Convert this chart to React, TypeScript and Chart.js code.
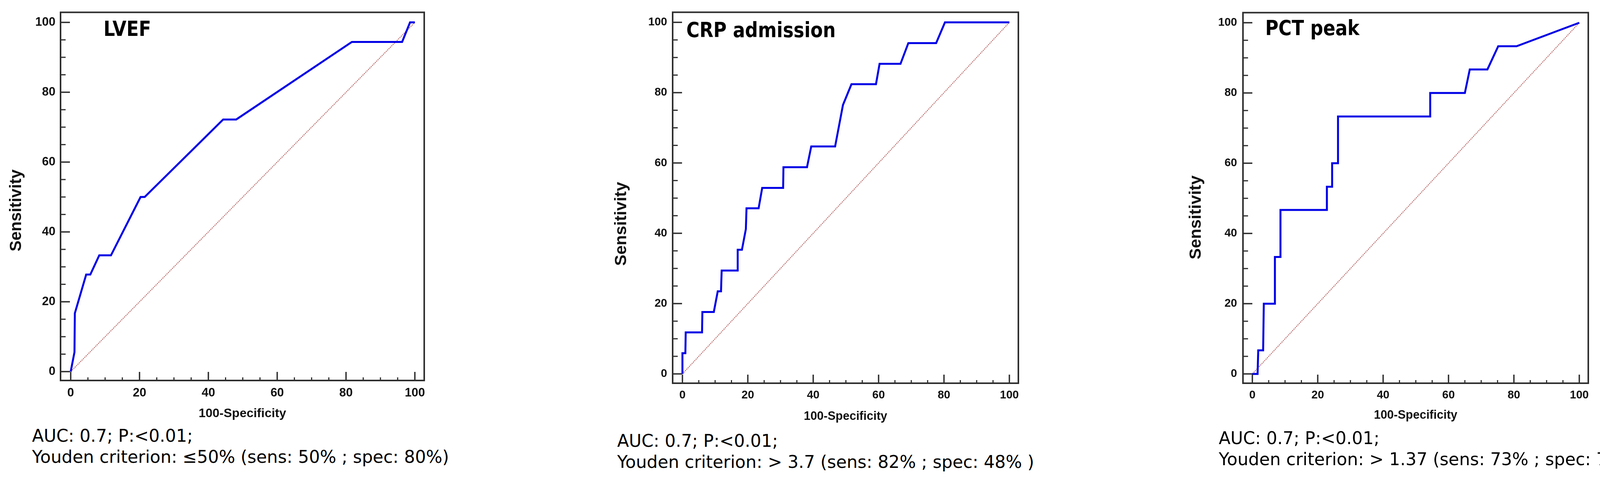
import React, { useEffect, useRef } from "react";
import { Chart, registerables } from "chart.js";

Chart.register(...registerables);

// ---------------- data ----------------
const X_TICKS = [0, 20, 40, 60, 80, 100];
const Y_TICKS = [0, 20, 40, 60, 80, 100];
const MINOR_TICKS = [5, 10, 15, 25, 30, 35, 45, 50, 55, 65, 70, 75, 85, 90, 95];
const DIAG_X = [0, 100];
const DIAG_Y = [0, 100];

const LVEF_FPR = [0, 1.1, 1.2, 4.5, 5.7, 8.3, 11.7, 20.3, 21.5, 44.3, 48.1, 81.7, 96.3, 98.6, 100];
const LVEF_TPR = [0, 5.6, 16.7, 27.8, 27.8, 33.3, 33.3, 50, 50, 72.2, 72.2, 94.4, 94.4, 100, 100];

const CRP_FPR = [0, 0, 0.9, 1.0, 6.0, 6.1, 9.6, 10.8, 11.8, 12.0, 16.9, 16.9, 18.2, 19.4, 19.6, 23.3, 24.4, 30.8, 30.9, 38.1, 39.4, 46.7, 47.9, 49.1, 51.7, 59.2, 60.3, 66.7, 69.1, 77.6, 80.3, 100];
const CRP_TPR = [0, 5.9, 5.9, 11.8, 11.8, 17.6, 17.6, 23.5, 23.5, 29.4, 29.4, 35.3, 35.3, 41.2, 47.1, 47.1, 52.9, 52.9, 58.8, 58.8, 64.7, 64.7, 70.6, 76.5, 82.4, 82.4, 88.2, 88.2, 94.1, 94.1, 100, 100];

const PCT_FPR = [0, 1.6, 1.8, 3.3, 3.5, 6.9, 6.9, 8.6, 8.6, 22.8, 22.8, 24.4, 24.4, 26.2, 26.2, 54.4, 54.4, 65.0, 66.5, 71.9, 75.2, 80.8, 100];
const PCT_TPR = [0, 0, 6.7, 6.7, 20, 20, 33.3, 33.3, 46.7, 46.7, 53.3, 53.3, 60, 60, 73.3, 73.3, 80, 80, 86.7, 86.7, 93.3, 93.3, 100];

const PANEL_TITLES = ["LVEF", "CRP admission", "PCT peak"];
const AUC_NOTES = ["AUC: 0.7; P:<0.01;", "AUC: 0.7; P:<0.01;", "AUC: 0.7; P:<0.01;"];
const YOUDEN_NOTES = [
  "Youden criterion: \u226450% (sens: 50% ; spec: 80%)",
  "Youden criterion: > 3.7 (sens: 82% ; spec: 48% )",
  "Youden criterion: > 1.37 (sens: 73% ; spec: 74%)",
];
const X_TITLE = "100-Specificity";
const Y_TITLE = "Sensitivity";

// ---------------- layout (positions / sizes) ----------------
const LAYOUTS = [
  { left: 0, width: 1120, height: 1090, padTop: 22, padRight: 34, yAxisW: 155, xAxisH: 115,
    xMin: -2.95, xMax: 102.72, yMin: -2.54, yMax: 102.88,
    tickSize: 31, xTickPad: 13.4, yTickPad: 13, xTitleSize: 32, xTitlePad: 11,
    yTitleSize: 42, yTitlePad: 16.8, yTitleShift: 36,
    titleLeft: 265, titleTop: 47, noteLeft: 82, noteTop: 1090 },
  { left: 1550, width: 1100, height: 1097, padTop: 27, padRight: 43, yAxisW: 172, xAxisH: 115,
    xMin: -2.99, xMax: 102.75, yMin: -2.65, yMax: 102.87,
    tickSize: 29, xTickPad: 13.6, yTickPad: 14, xTitleSize: 30.5, xTitlePad: 10.7,
    yTitleSize: 43, yTitlePad: 15.7, yTitleShift: 67,
    titleLeft: 1757, titleTop: 50, noteLeft: 1580, noteTop: 1103 },
  { left: 3020, width: 1130, height: 1097, padTop: 27, padRight: 84, yAxisW: 162, xAxisH: 115,
    xMin: -2.87, xMax: 102.75, yMin: -2.65, yMax: 102.87,
    tickSize: 29, xTickPad: 13.6, yTickPad: 15, xTitleSize: 30.5, xTitlePad: 13.7,
    yTitleSize: 43, yTitlePad: 16.2, yTitleShift: 50,
    titleLeft: 3239, titleTop: 45, noteLeft: 3120, noteTop: 1096 },
];

const AXIS_FONT = "'Liberation Sans', Arial, Helvetica, sans-serif";
const NOTE_FONT = "'DejaVu Sans', Verdana, sans-serif";

const frameTicksPlugin = {
  id: "frameTicks",
  afterLayout(chart: any, _args: any, opts: any) {
    const s: any = chart.scales.y;
    if (!s || s.__shifted) return;
    const orig = s.drawTitle.bind(s);
    s.drawTitle = () => {
      const c = chart.ctx;
      c.save();
      c.translate(0, opts.titleShift || 0);
      orig();
      c.restore();
    };
    s.__shifted = true;
  },
  afterDatasetsDraw(chart: any) {
    const { ctx, chartArea: a, scales } = chart;
    const x = scales.x;
    const y = scales.y;
    ctx.save();
    ctx.strokeStyle = "#2e2e2e";
    ctx.lineCap = "butt";
    const seg = (x1: number, y1: number, x2: number, y2: number) => {
      ctx.beginPath();
      ctx.moveTo(x1, y1);
      ctx.lineTo(x2, y2);
      ctx.stroke();
    };
    ctx.lineWidth = 3.5;
    X_TICKS.forEach((v) => {
      const px = x.getPixelForValue(v);
      seg(px, a.bottom, px, a.bottom - 22);
    });
    Y_TICKS.forEach((v) => {
      const py = y.getPixelForValue(v);
      seg(a.left, py, a.left + 24, py);
    });
    ctx.lineWidth = 3;
    MINOR_TICKS.forEach((v) => {
      const px = x.getPixelForValue(v);
      seg(px, a.bottom, px, a.bottom - 8);
      const py = y.getPixelForValue(v);
      seg(a.left, py, a.left + 13, py);
    });
    ctx.lineWidth = 4;
    ctx.strokeRect(a.left, a.top, a.right - a.left, a.bottom - a.top);
    ctx.restore();
  },
};

function RocPanel({ idx, fpr, tpr }: { idx: number; fpr: number[]; tpr: number[] }) {
  const ref = useRef<HTMLCanvasElement | null>(null);
  const L = LAYOUTS[idx];

  useEffect(() => {
    if (!ref.current) return;
    const tickFont = { family: AXIS_FONT, size: L.tickSize, weight: "bold" };
    const chart = new Chart(ref.current, {
      type: "line",
      data: {
        datasets: [
          {
            data: DIAG_X.map((v, i) => ({ x: v, y: DIAG_Y[i] })),
            borderColor: "rgb(188,112,112)",
            borderWidth: 2.4,
            borderDash: [3, 2],
            pointRadius: 0,
            tension: 0,
            order: 2,
          },
          {
            data: fpr.map((v, i) => ({ x: v, y: tpr[i] })),
            borderColor: "#0000e6",
            borderWidth: 5,
            pointRadius: 0,
            tension: 0,
            order: 1,
          },
        ],
      },
      options: {
        animation: false,
        responsive: false,
        devicePixelRatio: 1,
        layout: { padding: { left: 0, top: L.padTop, right: L.padRight, bottom: 0 } },
        plugins: {
          legend: { display: false },
          tooltip: { enabled: false },
          frameTicks: { titleShift: L.yTitleShift },
        } as any,
        scales: {
          x: {
            type: "linear",
            min: L.xMin,
            max: L.xMax,
            afterBuildTicks: (s: any) => {
              s.ticks = X_TICKS.map((v) => ({ value: v }));
            },
            afterFit: (s: any) => {
              s.height = L.xAxisH;
            },
            grid: { display: false, drawTicks: false },
            border: { display: false },
            ticks: {
              padding: L.xTickPad,
              autoSkip: false,
              maxRotation: 0,
              color: "#111",
              font: tickFont,
            },
            title: {
              display: true,
              text: X_TITLE,
              color: "#111",
              font: { family: AXIS_FONT, size: L.xTitleSize, weight: "bold" },
              padding: { top: 0, bottom: L.xTitlePad },
            },
          },
          y: {
            type: "linear",
            min: L.yMin,
            max: L.yMax,
            afterBuildTicks: (s: any) => {
              s.ticks = Y_TICKS.map((v) => ({ value: v }));
            },
            afterFit: (s: any) => {
              s.width = L.yAxisW;
            },
            grid: { display: false, drawTicks: false },
            border: { display: false },
            ticks: {
              padding: L.yTickPad,
              autoSkip: false,
              color: "#111",
              font: tickFont,
            },
            title: {
              display: true,
              text: Y_TITLE,
              color: "#111",
              font: { family: AXIS_FONT, size: L.yTitleSize, weight: "bold" },
              padding: { top: L.yTitlePad, bottom: 0 },
            },
          },
        },
      } as any,
      plugins: [frameTicksPlugin as any],
    });
    return () => chart.destroy();
  }, [idx, fpr, tpr]);

  return (
    <>
      <canvas
        ref={ref}
        width={L.width}
        height={L.height}
        style={{ position: "absolute", left: L.left, top: 0, width: L.width, height: L.height }}
      />
      <div
        style={{
          position: "absolute",
          left: L.titleLeft,
          top: L.titleTop,
          fontFamily: NOTE_FONT,
          fontWeight: "bold",
          fontSize: 53,
          lineHeight: "53px",
          color: "#000",
          whiteSpace: "nowrap",
          transform: "scaleX(0.87)",
          transformOrigin: "left top",
        }}
      >
        {PANEL_TITLES[idx]}
      </div>
      <div
        style={{
          position: "absolute",
          left: L.noteLeft,
          top: L.noteTop,
          fontFamily: NOTE_FONT,
          fontSize: 44,
          lineHeight: "54px",
          color: "#000",
          whiteSpace: "nowrap",
        }}
      >
        <div>{AUC_NOTES[idx]}</div>
        <div>{YOUDEN_NOTES[idx]}</div>
      </div>
    </>
  );
}

export default function App() {
  useEffect(() => {
    document.body.style.margin = "0";
    document.body.style.overflow = "hidden";
  }, []);
  return (
    <div
      style={{
        position: "relative",
        width: 4226,
        height: 1230,
        overflow: "hidden",
        background: "#fff",
      }}
    >
      <RocPanel idx={0} fpr={LVEF_FPR} tpr={LVEF_TPR} />
      <RocPanel idx={1} fpr={CRP_FPR} tpr={CRP_TPR} />
      <RocPanel idx={2} fpr={PCT_FPR} tpr={PCT_TPR} />
    </div>
  );
}
